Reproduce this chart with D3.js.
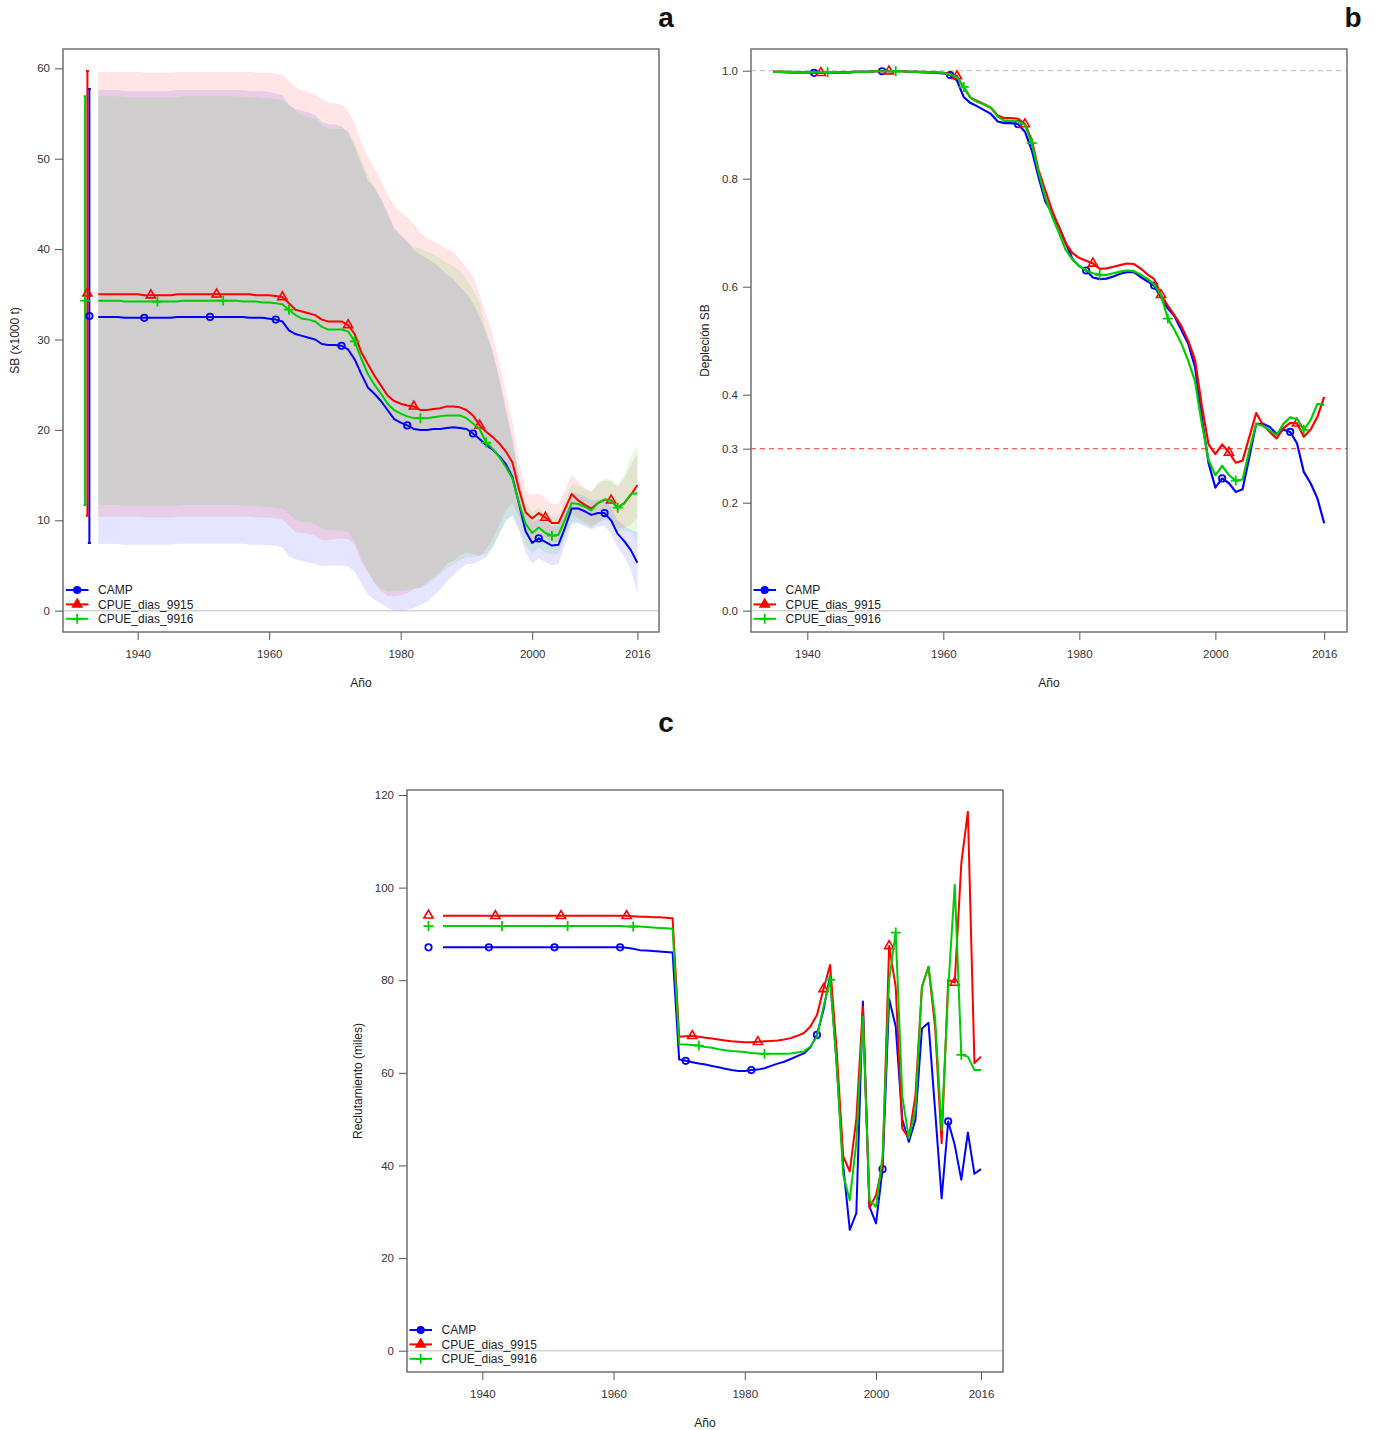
<!DOCTYPE html>
<html>
<head>
<meta charset="utf-8">
<script src="https://cdn.jsdelivr.net/npm/d3@7"></script>
<style>
  body { margin: 0; background: #fff; }
  text { font-family: "Liberation Sans", Arial, sans-serif; }
</style>
</head>
<body>
<svg id="chart" width="1376" height="1430"></svg>
<script>
// series names, colours and marker shapes
var seriesNames = ["CAMP", "CPUE_dias_9915", "CPUE_dias_9916"];
var seriesColors = ["#0000ff", "#ff0000", "#00cd00"];
var seriesShapes = ["circle", "triangle", "plus"];

// x ticks (years) shared by the three panels
var yearTicks = [1940, 1960, 1980, 2000, 2016];

// years with a marker on each series
var markerYears = [
  [1941, 1951, 1961, 1971, 1981, 1991, 2001, 2011],
  [1942, 1952, 1962, 1972, 1982, 1992, 2002, 2012],
  [1943, 1953, 1963, 1973, 1983, 1993, 2003, 2013]
];

// ---- panel a: spawning biomass (x1000 t), 1934-2016
var yearsSB = d3.range(1934, 2017);
var sbCamp = [32.5,32.5,32.5,32.5,32.4,32.4,32.4,32.4,32.4,32.4, 32.4,32.4,32.5,32.5,32.5,32.5,32.5,32.5,32.5,32.5,
  32.5,32.5,32.5,32.4,32.4,32.4,32.3,32.2,
  32.0,31.0,30.6,30.4,30.2,30.0,29.5,29.4,29.4,29.3,
  28.9,27.8,26.2,24.7,24.0,23.2,22.2,21.2,20.8,20.5,
  20.1,20.0,20.0,20.1,20.1,20.2,20.3,20.2,20.1,19.6,
  19.0,18.3,17.8,17.1,16.2,14.8,11.8,8.8,7.5,8.0,
  7.6,7.2,7.3,9.2,11.3,11.3,11.0,10.6,10.8,10.8,
  10.0,8.5,7.7,6.7,5.3];
var sb9915 = [35.0,35.0,35.0,35.0,35.0,35.0,35.0,34.9,34.9,34.9, 34.9,34.9,35.0,35.0,35.0,35.0,35.0,35.0,35.0,35.0,
  35.0,35.0,35.0,35.0,34.9,34.9,34.9,34.8,
  34.7,34.0,33.3,33.1,32.9,32.7,32.2,32.0,32.0,32.0,
  31.6,30.6,28.6,27.3,26.0,24.9,23.8,23.2,22.9,22.7,
  22.6,22.2,22.2,22.3,22.4,22.6,22.6,22.5,22.2,21.6,
  20.5,19.8,19.2,18.5,17.6,16.4,13.4,10.9,10.2,10.8,
  10.3,9.7,9.7,11.3,12.9,12.2,11.7,11.3,11.9,12.3,
  12.2,11.4,11.9,12.8,13.9];
var sb9916 = [34.3,34.3,34.3,34.3,34.2,34.2,34.2,34.2,34.2,34.2, 34.2,34.2,34.2,34.3,34.3,34.3,34.3,34.3,34.3,34.3,
  34.3,34.3,34.2,34.2,34.2,34.1,34.1,34.0,
  33.9,33.3,32.7,32.3,32.2,32.0,31.4,31.1,31.1,31.1,
  30.9,29.8,27.9,26.2,25.0,24.0,22.9,22.2,21.8,21.5,
  21.3,21.3,21.3,21.4,21.5,21.6,21.6,21.6,21.3,20.7,
  20.1,18.6,17.9,17.0,15.9,14.6,11.9,9.6,8.6,9.2,
  8.6,8.3,8.4,10.1,11.9,11.8,11.5,11.1,11.9,12.3,
  12.2,11.4,11.9,12.9,13.0];
// half width of the confidence band
var sbHalfCamp = [25.1,25.1,25.1,25.1,25.1,25.1,25.1,25.1,25.1,25.1, 25.1,25.1,25.1,25.1,25.1,25.1,25.1,25.1,25.1,25.1,
  25.1,25.1,25.1,25.1,25.1,25.1,25.1,25.0,
  25.0,25.0,24.9,24.9,24.9,24.8,24.6,24.4,24.4,24.3,
  24.0,23.5,23.2,22.9,22.8,22.4,21.9,21.2,20.8,20.4,
  19.8,19.4,19.0,18.4,17.8,17.0,16.4,15.6,15.0,14.4,
  13.5,12.4,10.8,8.6,6.2,4.3,2.9,2.4,2.3,2.2,
  2.2,2.2,2.1,1.9,1.8,1.6,1.7,1.6,1.5,1.4,
  1.5,1.5,1.7,2.2,3.4];
var sbHalf9915 = [24.6,24.6,24.6,24.6,24.6,24.6,24.6,24.6,24.6,24.6, 24.6,24.6,24.6,24.6,24.6,24.6,24.6,24.6,24.6,24.6,
  24.6,24.6,24.6,24.6,24.6,24.6,24.6,24.6,
  24.6,24.6,24.6,24.5,24.4,24.4,24.4,24.2,24.1,24.0,
  23.7,23.3,23.2,22.9,23.0,22.7,22.2,21.6,21.2,20.8,
  20.2,19.6,19.0,18.6,18.1,17.4,17.1,16.4,15.8,15.3,
  14.5,13.0,11.3,9.0,6.5,4.5,3.0,2.4,2.6,2.2,
  2.2,2.1,2.1,2.05,2.2,2.0,1.9,1.9,2.2,2.1,
  2.1,2.3,2.75,3.3,3.6];
var sbHalf9916 = [22.6,22.6,22.6,22.6,22.6,22.6,22.6,22.6,22.6,22.6, 22.6,22.6,22.6,22.6,22.6,22.6,22.6,22.6,22.6,22.6,
  22.6,22.6,22.6,22.6,22.6,22.6,22.6,22.6,
  22.6,22.6,22.6,22.5,22.4,22.4,22.3,22.2,22.2,22.2,
  22.2,22.0,22.0,22.0,21.8,21.5,20.8,20.0,19.6,19.2,
  18.9,18.8,18.4,18.0,17.5,16.9,16.5,16.0,15.4,14.8,
  14.0,12.4,10.8,8.5,6.0,4.0,2.9,2.4,2.3,2.2,
  2.2,2.1,2.1,2.0,2.1,2.0,2.0,2.0,2.2,2.3,
  2.3,2.6,3.1,4.2,5.3];
// virgin biomass with its interval, shown left of the series
var virginYear = [1932.65, 1932.35, 1932.0];
var virginSB = [32.6, 35.1, 34.3];
var virginSBHalf = [25.1, 24.6, 22.6];

// ---- panel b: depletion, 1935-2016
var yearsDepl = d3.range(1935, 2017);
var deplCamp = [0.998,0.998,0.997,0.997,0.997,0.997,0.996,0.996,0.996,0.996, 0.997,0.997,0.998,0.998,0.998,0.999,0.999,0.999,0.999,0.999,
  0.998,0.998,0.997,0.997,0.996,0.995,
  0.992,0.982,0.951,0.940,0.934,0.927,0.920,0.906,0.903,0.903,
  0.901,0.887,0.853,0.803,0.758,0.736,0.711,0.681,0.651,0.638,
  0.630,0.617,0.614,0.615,0.619,0.624,0.627,0.627,0.618,0.610,
  0.602,0.580,0.560,0.545,0.520,0.495,0.452,0.359,0.273,0.228,
  0.245,0.236,0.220,0.225,0.285,0.346,0.346,0.340,0.327,0.335,
  0.331,0.310,0.257,0.236,0.208,0.162];
var depl9915 = [0.998,0.998,0.998,0.997,0.997,0.997,0.997,0.996,0.996,0.996, 0.997,0.997,0.998,0.998,0.998,0.999,0.999,0.999,0.999,0.999,
  0.998,0.998,0.998,0.997,0.997,0.996,
  0.994,0.990,0.968,0.950,0.944,0.938,0.931,0.917,0.912,0.912,
  0.911,0.901,0.872,0.816,0.778,0.741,0.710,0.680,0.662,0.653,
  0.648,0.643,0.633,0.634,0.637,0.640,0.643,0.642,0.634,0.623,
  0.614,0.585,0.565,0.547,0.527,0.500,0.465,0.380,0.308,0.290,
  0.308,0.293,0.274,0.278,0.322,0.366,0.344,0.331,0.319,0.338,
  0.348,0.347,0.322,0.335,0.359,0.396];
var depl9916 = [0.998,0.998,0.998,0.998,0.997,0.997,0.997,0.997,0.997,0.997, 0.997,0.997,0.998,0.998,0.998,0.999,0.999,0.999,0.999,0.999,
  0.998,0.998,0.998,0.997,0.997,0.996,
  0.993,0.988,0.970,0.950,0.942,0.938,0.932,0.915,0.907,0.907,
  0.906,0.900,0.866,0.812,0.765,0.730,0.700,0.668,0.650,0.638,
  0.630,0.625,0.622,0.622,0.625,0.628,0.630,0.629,0.622,0.615,
  0.604,0.585,0.541,0.520,0.495,0.463,0.425,0.347,0.279,0.251,
  0.268,0.251,0.241,0.243,0.298,0.346,0.342,0.334,0.325,0.346,
  0.358,0.355,0.335,0.353,0.383,0.381];
var deplTicks = [0.0, 0.2, 0.3, 0.4, 0.6, 0.8, 1.0];

// ---- panel c: recruitment (miles), 1934-2016
var yearsRec = d3.range(1934, 2017);
var recCamp = [87.1,87.1,87.1,87.1,87.1,87.1,87.1,87.1,87.1,87.1, 87.1,87.1,87.1,87.1,87.1,87.1,87.1,87.1,87.1,87.1,
  87.1,87.1,87.1,87.1,87.1,87.1,87.1,87.1,
  87.0,86.8,86.5,86.4,86.3,86.2,86.1,86.0,62.9,62.6,
  62.3,62.0,61.8,61.5,61.2,60.9,60.6,60.4,60.4,60.6,
  60.7,61.0,61.5,62.0,62.4,63.0,63.6,64.2,65.5,68.2,
  73.6,81.0,62.0,40.0,26.1,29.7,75.4,31.1,27.5,39.2,
  76.0,70.0,50.0,45.1,49.8,69.6,70.8,52.0,32.9,49.5,
  44.4,36.9,47.1,38.2,39.2];
var rec9915 = [93.9,93.9,93.9,93.9,93.9,93.9,93.9,93.9,93.9,93.9, 93.9,93.9,93.9,93.9,93.9,93.9,93.9,93.9,93.9,93.9,
  93.9,93.9,93.9,93.9,93.9,93.9,93.9,93.9,
  93.9,93.8,93.7,93.7,93.6,93.6,93.5,93.4,67.8,67.9,
  68.0,67.8,67.6,67.4,67.2,67.0,66.8,66.7,66.6,66.6,
  66.7,66.8,66.9,67.0,67.2,67.5,68.0,68.6,70.0,72.5,
  78.1,83.3,65.0,42.0,38.7,50.0,74.3,30.8,33.6,40.0,
  87.4,78.6,48.0,45.9,55.0,78.6,82.9,70.0,44.8,80.1,
  79.5,105.3,116.4,62.1,63.5];
var rec9916 = [91.7,91.7,91.7,91.7,91.7,91.7,91.7,91.7,91.7,91.7, 91.7,91.7,91.7,91.7,91.7,91.7,91.7,91.7,91.7,91.7,
  91.7,91.7,91.7,91.7,91.7,91.7,91.7,91.7,
  91.6,91.6,91.6,91.5,91.4,91.3,91.2,91.1,66.2,66.1,
  66.0,65.9,65.6,65.4,65.1,64.9,64.7,64.6,64.5,64.3,
  64.2,64.1,64.1,64.1,64.1,64.2,64.4,64.6,65.7,67.8,
  74.3,80.1,62.0,38.0,32.5,45.0,72.1,32.5,31.1,42.0,
  80.0,90.3,55.0,45.9,52.0,78.6,82.9,72.0,47.7,78.0,
  100.6,63.9,63.5,60.6,60.6];
var virginRecYear = 1931.8;
var virginRec = [87.1, 94.0, 91.7];

var svg = d3.select("#chart");

function drawMarker(g, shape, px, py, color, filled) {
  if (shape === "circle") {
    g.append("circle").attr("cx", px).attr("cy", py).attr("r", 3.2)
      .attr("fill", filled ? color : "none")
      .attr("stroke", color).attr("stroke-width", 1.8);
  } else if (shape === "triangle") {
    g.append("path").attr("d", d3.symbol().type(d3.symbolTriangle).size(36)())
      .attr("transform", `translate(${px},${py})`)
      .attr("fill", filled ? color : "none")
      .attr("stroke", color).attr("stroke-width", 1.6);
  } else {
    g.append("path").attr("d", "M-5,0H5M0,-5V5")
      .attr("transform", `translate(${px},${py})`)
      .attr("fill", "none").attr("stroke", color).attr("stroke-width", 1.8);
  }
}

// common frame: zero line, axes, titles, box
function makePanel(opt) {
  var x = d3.scaleLinear().domain([1940, 2016]).range(opt.xRange);
  var y = d3.scaleLinear().domain(opt.yDomain).range(opt.yRange);
  var g = svg.append("g");
  var b = opt.box;

  g.append("line")
    .attr("x1", b[0]).attr("x2", b[2])
    .attr("y1", y(0)).attr("y2", y(0))
    .attr("stroke", "#d4d4d4").attr("stroke-width", 1.5);

  var gy = g.append("g")
    .attr("transform", `translate(${b[0]},0)`)
    .call(d3.axisLeft(y).tickValues(opt.yTicks).tickSize(8).tickPadding(5)
      .tickFormat(opt.yFormat));
  var gx = g.append("g")
    .attr("transform", `translate(0,${b[3]})`)
    .call(d3.axisBottom(x).tickValues(yearTicks).tickSize(8).tickPadding(10)
      .tickFormat(d3.format("d")));
  [gx, gy].forEach(function(a) {
    a.select(".domain").remove();
    a.attr("font-family", null).attr("font-size", null);
    a.selectAll("line").attr("stroke", "#555");
    a.selectAll("text").attr("fill", "#333").style("font-size", "11.5px");
  });

  // axis titles
  g.append("text")
    .attr("x", (b[0] + b[2]) / 2).attr("y", b[3] + 55)
    .attr("text-anchor", "middle").style("font-size", "12px").attr("fill", "#222")
    .text("Año");
  g.append("text")
    .attr("transform", `translate(${opt.yTitleX},${(b[1] + b[3]) / 2}) rotate(-90)`)
    .attr("text-anchor", "middle").style("font-size", "12px").attr("fill", "#222")
    .text(opt.yTitle);

  // panel letter
  g.append("text")
    .attr("x", opt.letterPos[0]).attr("y", opt.letterPos[1])
    .attr("text-anchor", "middle").style("font-size", "28px").style("font-weight", "bold")
    .attr("fill", "#111")
    .text(opt.letter);

  return { g: g, x: x, y: y, box: b };
}

function drawBox(p) {
  var b = p.box;
  p.g.append("rect")
    .attr("x", b[0]).attr("y", b[1])
    .attr("width", b[2] - b[0]).attr("height", b[3] - b[1])
    .attr("fill", "none").attr("stroke", "#666").attr("stroke-width", 1.4);
}

function drawSeries(p, years, values, k, lw) {
  var line = d3.line()
    .x(function(d, i) { return p.x(years[i]); })
    .y(function(d) { return p.y(d); });
  p.g.append("path")
    .datum(values)
    .attr("d", line)
    .attr("fill", "none")
    .attr("stroke", seriesColors[k])
    .attr("stroke-width", lw || 2)
    .attr("stroke-linejoin", "round");
  markerYears[k].forEach(function(yr) {
    var i = years.indexOf(yr);
    if (i >= 0) drawMarker(p.g, seriesShapes[k], p.x(yr), p.y(values[i]), seriesColors[k], false);
  });
}

function drawLegend(p, lx, ly) {
  seriesNames.forEach(function(name, k) {
    var yy = ly + k * 14.4;
    p.g.append("line")
      .attr("x1", lx).attr("x2", lx + 22.5)
      .attr("y1", yy).attr("y2", yy)
      .attr("stroke", seriesColors[k]).attr("stroke-width", 2);
    drawMarker(p.g, seriesShapes[k], lx + 11.2, yy, seriesColors[k], true);
    p.g.append("text")
      .attr("x", lx + 32).attr("y", yy + 4.2)
      .style("font-size", "12px").attr("fill", "#222")
      .text(name);
  });
}

// ---------------- panel a
var pa = makePanel({
  box: [63, 49, 659, 632],
  xRange: [137.7, 637.4],
  yDomain: [0, 60], yRange: [610.7, 68.3],
  yTicks: [0, 10, 20, 30, 40, 50, 60], yFormat: d3.format("d"),
  yTitle: "SB (x1000 t)", yTitleX: 19,
  letter: "a", letterPos: [666, 27]
});
var sbSeries = [sbCamp, sb9915, sb9916];
var sbHalf = [sbHalfCamp, sbHalf9915, sbHalf9916];
var shade = ["rgba(0,0,255,0.1)", "rgba(255,0,0,0.1)", "rgba(0,205,0,0.1)"];
sbSeries.forEach(function(vals, k) {
  var area = d3.area()
    .x(function(d, i) { return pa.x(yearsSB[i]); })
    .y0(function(d, i) { return pa.y(d - sbHalf[k][i]); })
    .y1(function(d, i) { return pa.y(d + sbHalf[k][i]); });
  pa.g.append("path").datum(vals).attr("d", area).attr("fill", shade[k]);
});
// virgin biomass with interval bars
virginSB.forEach(function(v, k) {
  var px = pa.x(virginYear[k]);
  var top = pa.y(v + virginSBHalf[k]), bot = pa.y(v - virginSBHalf[k]);
  pa.g.append("path")
    .attr("d", `M${px},${top}V${bot}M${px - 1.5},${top}H${px + 1.5}M${px - 1.5},${bot}H${px + 1.5}`)
    .attr("stroke", seriesColors[k]).attr("stroke-width", 2).attr("fill", "none");
});
virginSB.forEach(function(v, k) {
  drawMarker(pa.g, seriesShapes[k], pa.x(virginYear[k]), pa.y(v), seriesColors[k], false);
});
sbSeries.forEach(function(vals, k) { drawSeries(pa, yearsSB, vals, k); });
drawLegend(pa, 66, 590);
drawBox(pa);

// ---------------- panel b
var pb = makePanel({
  box: [751, 49, 1347, 632],
  xRange: [807.3, 1324.2],
  yDomain: [0, 1], yRange: [610.7, 70.7],
  yTicks: deplTicks, yFormat: d3.format(".1f"),
  yTitle: "Depleción SB", yTitleX: 709,
  letter: "b", letterPos: [1353, 27]
});
pb.g.append("line")
  .attr("x1", pb.box[0]).attr("x2", pb.box[2]).attr("y1", pb.y(1)).attr("y2", pb.y(1))
  .attr("stroke", "#c8c8c8").attr("stroke-width", 1.2).attr("stroke-dasharray", "5,4");
pb.g.append("line")
  .attr("x1", pb.box[0]).attr("x2", pb.box[2]).attr("y1", pb.y(0.3)).attr("y2", pb.y(0.3))
  .attr("stroke", "#ff5a5a").attr("stroke-width", 1.2).attr("stroke-dasharray", "5,4");
[deplCamp, depl9915, depl9916].forEach(function(vals, k) { drawSeries(pb, yearsDepl, vals, k, 2.2); });
drawLegend(pb, 753.5, 590);
drawBox(pb);

// ---------------- panel c
var pc = makePanel({
  box: [407, 790, 1003, 1372],
  xRange: [482.3, 981],
  yDomain: [0, 120], yRange: [1350.7, 795],
  yTicks: [0, 20, 40, 60, 80, 100, 120], yFormat: d3.format("d"),
  yTitle: "Reclutamiento (miles)", yTitleX: 362,
  letter: "c", letterPos: [666, 732]
});
virginRec.forEach(function(v, k) {
  drawMarker(pc.g, seriesShapes[k], pc.x(virginRecYear), pc.y(v), seriesColors[k], false);
});
[recCamp, rec9915, rec9916].forEach(function(vals, k) { drawSeries(pc, yearsRec, vals, k); });
drawLegend(pc, 409.5, 1330);
drawBox(pc);
</script>
</body>
</html>
